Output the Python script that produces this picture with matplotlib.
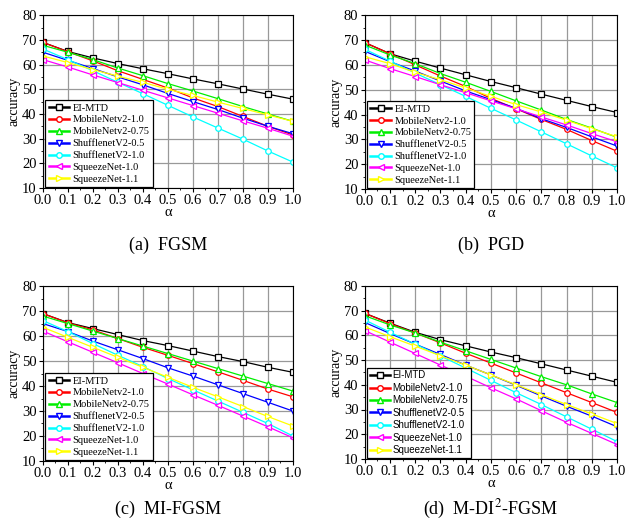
import matplotlib
matplotlib.use("Agg")
import matplotlib.pyplot as plt
from matplotlib.ticker import MultipleLocator
from matplotlib.lines import Line2D

alpha = [0.0, 0.1, 0.2, 0.3, 0.4, 0.5, 0.6, 0.7, 0.8, 0.9, 1.0]

models = ['EI-MTD', 'MobileNetv2-1.0', 'MobileNetv2-0.75', 'ShufflenetV2-0.5',
          'ShufflenetV2-1.0', 'SqueezeNet-1.0', 'SqueezeNet-1.1']
colors = ['black', 'red', '#00ee00', 'blue', 'cyan', 'magenta', 'yellow']
markers = ['s', 'o', '^', 'v', 'o', '<', '>']

# (a) FGSM
fgsm = [
    [69.0, 65.3, 62.7, 60.4, 58.3, 56.3, 54.2, 52.2, 50.1, 48.0, 46.0],
    [69.0, 65.2, 61.5, 57.5, 54.0, 50.5, 46.5, 43.0, 39.0, 35.0, 31.5],
    [67.8, 65.0, 62.0, 58.6, 55.5, 52.3, 49.3, 46.2, 43.0, 40.0, 37.0],
    [65.0, 61.7, 58.4, 55.0, 51.8, 48.3, 45.0, 41.8, 38.3, 35.0, 32.0],
    [66.3, 62.0, 57.5, 52.8, 48.2, 43.5, 38.8, 34.3, 29.8, 25.0, 20.5],
    [62.0, 59.0, 55.8, 52.7, 49.6, 46.5, 43.4, 40.3, 37.2, 34.2, 31.0],
    [63.5, 60.8, 58.0, 55.3, 52.8, 50.0, 47.5, 44.8, 42.2, 39.6, 37.0],
]
# (b) PGD
pgd = [
    [69.0, 64.5, 61.5, 58.7, 56.0, 53.3, 50.8, 48.2, 45.7, 43.2, 40.8],
    [69.0, 64.5, 60.0, 55.5, 51.3, 46.5, 42.3, 38.0, 34.0, 29.5, 25.2],
    [68.0, 64.0, 60.5, 56.5, 53.0, 49.3, 45.5, 41.8, 38.0, 34.5, 30.8],
    [65.5, 61.3, 57.5, 53.5, 49.5, 46.0, 42.5, 38.3, 34.8, 31.0, 27.3],
    [66.3, 61.5, 56.7, 52.0, 47.3, 42.5, 37.8, 33.0, 28.2, 23.3, 18.5],
    [62.0, 58.5, 55.3, 52.0, 48.8, 45.5, 42.3, 39.0, 35.8, 32.3, 29.0],
    [63.3, 60.5, 57.0, 54.0, 50.7, 47.3, 44.0, 41.0, 37.7, 34.3, 31.0],
]
# (c) MI-FGSM
mi_fgsm = [
    [69.0, 65.4, 63.0, 60.6, 58.2, 56.2, 54.0, 51.8, 49.8, 47.5, 45.5],
    [69.0, 65.3, 62.5, 59.0, 55.5, 52.3, 49.0, 45.7, 42.3, 38.8, 35.7],
    [68.0, 65.0, 62.0, 59.0, 56.0, 53.0, 50.0, 47.0, 44.0, 41.0, 38.0],
    [65.0, 61.8, 58.0, 54.5, 51.0, 47.3, 44.0, 40.5, 37.0, 33.5, 30.0],
    [66.2, 61.8, 57.0, 52.3, 47.8, 43.0, 38.5, 34.0, 29.5, 25.0, 20.0],
    [62.0, 57.7, 53.5, 49.3, 45.0, 40.8, 36.5, 32.3, 28.0, 23.7, 19.3],
    [63.5, 59.5, 55.5, 51.5, 47.5, 43.5, 39.5, 35.7, 31.8, 27.8, 24.0],
]
# (d) M-DI2-FGSM
m_di2_fgsm = [
    [69.0, 65.0, 61.3, 58.3, 55.8, 53.3, 51.0, 48.5, 46.0, 43.5, 41.0],
    [69.0, 64.8, 61.0, 57.0, 52.8, 48.8, 44.8, 40.8, 36.8, 32.8, 28.8],
    [68.0, 64.3, 61.0, 57.3, 53.8, 50.3, 46.8, 43.3, 40.0, 36.3, 32.8],
    [65.3, 60.8, 56.5, 52.3, 48.0, 44.0, 39.8, 35.5, 31.3, 27.3, 23.0],
    [66.3, 61.3, 56.5, 51.7, 46.8, 41.8, 36.8, 32.0, 27.0, 22.0, 17.0],
    [62.0, 57.3, 52.7, 48.0, 43.5, 38.8, 34.3, 29.5, 24.8, 20.3, 15.8],
    [63.5, 59.5, 55.7, 51.8, 48.0, 44.0, 40.0, 36.0, 32.0, 28.2, 24.3],
]

# data, caption, axes rect, caption y, legend font, legend size
panels = [
    (fgsm, '(a)  FGSM', [0.068, 0.642, 0.396, 0.329], 0.533, 'Liberation Serif', 7.5),
    (pgd, '(b)  PGD', [0.578, 0.640, 0.400, 0.331], 0.533, 'Liberation Serif', 7.5),
    (mi_fgsm, '(c)  MI-FGSM', [0.068, 0.122, 0.396, 0.333], 0.030, 'Liberation Serif', 7.5),
    (m_di2_fgsm, '(d)  M-DI$^2$-FGSM', [0.578, 0.126, 0.400, 0.329], 0.030, 'Liberation Sans', 7.0),
]

plt.rcParams['font.family'] = 'Liberation Serif'
plt.rcParams['mathtext.fontset'] = 'stix'

fig = plt.figure(figsize=(6.31, 5.25), dpi=100)

for data, caption, rect, cap_y, legend_font, legend_size in panels:
    ax = fig.add_axes(rect)
    for vals, name, c, m in zip(data, models, colors, markers):
        ax.plot(alpha, vals, color=c, marker=m, markersize=4, markerfacecolor='white',
                markeredgecolor=c, markeredgewidth=0.9, linewidth=0.9, label=name)
    ax.set_xlim(0, 1.0)
    ax.set_ylim(10, 80)
    ax.xaxis.set_major_locator(MultipleLocator(0.1))
    ax.xaxis.set_minor_locator(MultipleLocator(0.05))
    ax.yaxis.set_major_locator(MultipleLocator(10))
    ax.yaxis.set_minor_locator(MultipleLocator(5))
    ax.set_xticklabels([f'{v:.1f}' for v in ax.get_xticks()])
    ax.tick_params(which='major', direction='out', length=3, width=0.8, labelsize=10.5, pad=1.5)
    ax.tick_params(which='minor', direction='out', length=1.5, width=0.6)
    ax.grid(True, which='major', color='#999999', linewidth=0.9)
    for s in ax.spines.values():
        s.set_linewidth(0.8)
    ax.set_xlabel('α', fontsize=10.5, labelpad=-1)
    ax.set_ylabel('accuracy', fontsize=10, labelpad=1)

    handles = [Line2D([0], [0], color=c, marker=m, markersize=4, markerfacecolor='white',
                      markeredgecolor=c, linewidth=1.8)
               for c, m in zip(colors, markers)]
    leg = ax.legend(handles, models, loc='lower left', bbox_to_anchor=(0.01, 0.005),
                    prop={'family': legend_font, 'size': legend_size}, frameon=True,
                    fancybox=False, edgecolor='black', framealpha=1, handlelength=2.0,
                    handletextpad=0.3, labelspacing=0.25, borderpad=0.3, borderaxespad=0.0)
    leg.get_frame().set_linewidth(0.9)

    fig.text(rect[0] + rect[2] / 2, cap_y, caption, ha='center', va='center', fontsize=13)

fig.savefig('out.png', dpi=100)
